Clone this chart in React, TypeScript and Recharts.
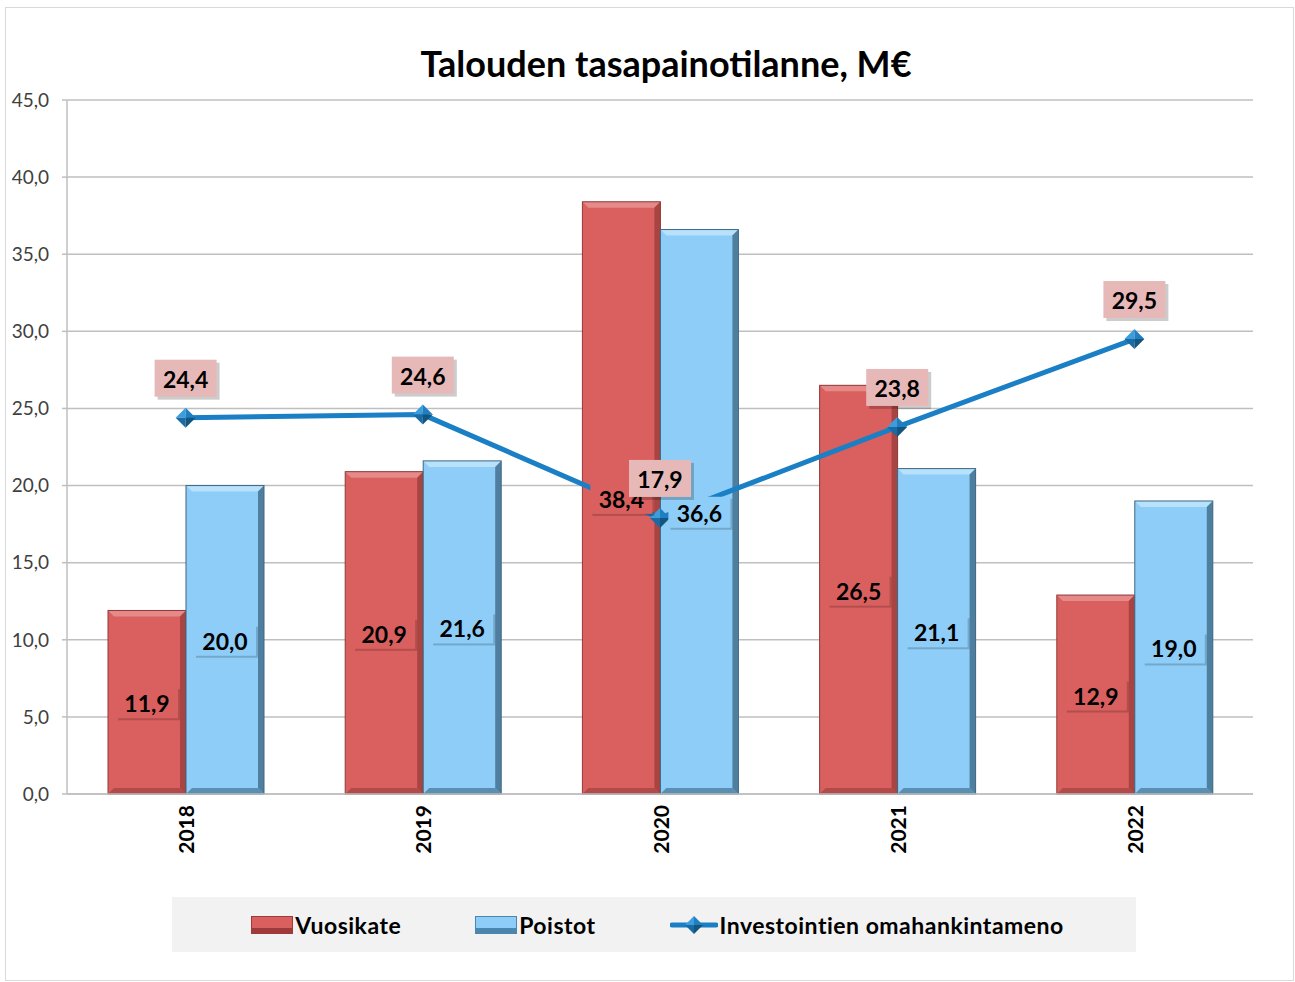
import React from "react";
import {
  ComposedChart,
  Bar,
  Line,
  XAxis,
  YAxis,
  CartesianGrid,
  LabelList,
} from "recharts";

const years = ["2018", "2019", "2020", "2021", "2022"];
const vuosikate = [11.9, 20.9, 38.4, 26.5, 12.9];
const poistot = [20.0, 21.6, 36.6, 21.1, 19.0];
const investoinnit = [24.4, 24.6, 17.9, 23.8, 29.5];
const yTicks = [0, 5, 10, 15, 20, 25, 30, 35, 40, 45];

const data = years.map((year, i) => ({
  year,
  vuosikate: vuosikate[i],
  poistot: poistot[i],
  investoinnit: investoinnit[i],
}));

const FONT = "Lato, 'Open Sans', sans-serif";
const RED = "#d9605e";
const BLUE = "#8dcdf7";
const LINE = "#1a7fc4";

const fmt = (v: number) => Number(v).toFixed(1).replace(".", ",");

// bar with a simple bevel, roughly like the Excel 3D style
function bevelBar(fill: string, light: string, dark: string, edge: string) {
  return (p: any) => {
    const { x, y, width, height } = p;
    if (!height || height <= 0) return <g />;
    const b = 6;
    return (
      <g>
        <rect x={x} y={y} width={width} height={height} fill={fill} />
        <polygon
          points={`${x},${y} ${x + width},${y} ${x + width - b},${y + b} ${x + b},${y + b}`}
          fill={light}
        />
        <polygon
          points={`${x + width},${y} ${x + width},${y + height} ${x + width - b},${y + height - b} ${x + width - b},${y + b}`}
          fill={dark}
        />
        <polygon
          points={`${x},${y + height} ${x + width},${y + height} ${x + width - b},${y + height - b} ${x + b},${y + height - b}`}
          fill={dark}
          opacity={0.8}
        />
        <rect x={x} y={y} width={width} height={height} fill="none" stroke={edge} strokeWidth={1} />
      </g>
    );
  };
}

function barLabel(bg: string) {
  return (p: any) => {
    const { x, y, width, height, value } = p;
    const cx = x + width / 2;
    const cy = y + height / 2;
    return (
      <g>
        <rect x={cx - 29} y={cy - 13} width={62} height={31} fill="#000" opacity={0.18} />
        <rect x={cx - 31} y={cy - 15} width={62} height={31} fill={bg} />
        <text
          x={cx}
          y={cy + 1}
          textAnchor="middle"
          dominantBaseline="central"
          fontFamily={FONT}
          fontWeight="bold"
          fontSize={23}
          fill="#000"
        >
          {fmt(value)}
        </text>
      </g>
    );
  };
}

function lineLabel(p: any) {
  const { x, y, value } = p;
  return (
    <g>
      <rect x={x - 28} y={y - 55} width={62} height={37} fill="#000" opacity={0.2} />
      <rect x={x - 31} y={y - 58} width={62} height={37} fill="#e6b9b8" />
      <text
        x={x}
        y={y - 39}
        textAnchor="middle"
        dominantBaseline="central"
        fontFamily={FONT}
        fontWeight="bold"
        fontSize={23}
        fill="#000"
      >
        {fmt(value)}
      </text>
    </g>
  );
}

function Diamond({ cx, cy, size = 9 }: any) {
  if (cx == null || cy == null) return <g />;
  const r = size;
  return (
    <g>
      <polygon points={`${cx},${cy - r} ${cx - r},${cy} ${cx},${cy}`} fill="#3b9ddd" />
      <polygon points={`${cx},${cy - r} ${cx + r},${cy} ${cx},${cy}`} fill="#1f7fc0" />
      <polygon points={`${cx - r},${cy} ${cx},${cy + r} ${cx},${cy}`} fill="#1a6aa3" />
      <polygon points={`${cx + r},${cy} ${cx},${cy + r} ${cx},${cy}`} fill="#14557f" />
    </g>
  );
}

function YearTick({ x, y, payload }: any) {
  const ay = y + 3;
  return (
    <text
      x={x}
      y={ay}
      transform={`rotate(-90 ${x} ${ay})`}
      textAnchor="end"
      dominantBaseline="central"
      fontFamily={FONT}
      fontWeight="bold"
      fontSize={21}
      fill="#000"
    >
      {payload.value}
    </text>
  );
}

function Swatch({ fill, dark }: { fill: string; dark: string }) {
  return (
    <svg width={42} height={18} style={{ display: "block" }}>
      <rect x={0} y={0} width={42} height={18} fill={fill} />
      <rect x={0} y={12} width={42} height={6} fill={dark} />
      <rect x={0.5} y={0.5} width={41} height={17} fill="none" stroke={dark} />
    </svg>
  );
}

function LegendBox() {
  const item: React.CSSProperties = { display: "flex", alignItems: "center", gap: 2 };
  const label: React.CSSProperties = {
    fontFamily: FONT,
    fontWeight: "bold",
    fontSize: 23,
    letterSpacing: 0.5,
    color: "#000",
  };
  return (
    <div
      style={{
        position: "absolute",
        left: 172,
        top: 897,
        width: 964,
        height: 55,
        background: "#f2f2f2",
        display: "flex",
        alignItems: "center",
        justifyContent: "center",
        gap: 74,
        boxSizing: "border-box",
        paddingLeft: 7,
      }}
    >
      <div style={item}>
        <Swatch fill={RED} dark="#9e3b3a" />
        <span style={label}>Vuosikate</span>
      </div>
      <div style={item}>
        <Swatch fill={BLUE} dark="#4a86ad" />
        <span style={label}>Poistot</span>
      </div>
      <div style={item}>
        <svg width={48} height={20} style={{ display: "block" }}>
          <line x1={2} y1={10} x2={46} y2={10} stroke={LINE} strokeWidth={5} strokeLinecap="round" />
          <Diamond cx={24} cy={10} size={9} />
        </svg>
        <span style={label}>Investointien omahankintameno</span>
      </div>
    </div>
  );
}

export default function App() {
  return (
    <div style={{ position: "absolute", left: 0, top: 0, width: 1295, height: 982, background: "#fff" }}>
      <div
        style={{
          position: "absolute",
          left: 5,
          top: 7,
          width: 1287,
          height: 972,
          border: "1px solid #d9d9d9",
        }}
      />
      <div
        style={{
          position: "absolute",
          left: 0,
          top: 41,
          width: 1332,
          textAlign: "center",
          fontFamily: FONT,
          fontWeight: "bold",
          fontSize: 36,
          color: "#000",
        }}
      >
        Talouden tasapainotilanne, M€
      </div>
      <div style={{ position: "absolute", left: 0, top: 0 }}>
        <ComposedChart
          width={1295}
          height={982}
          data={data}
          margin={{ top: 100, right: 42, left: 0, bottom: 0 }}
          barGap={0}
        >
          <CartesianGrid vertical={false} stroke="#bfbfbf" strokeWidth={1.5} />
          <XAxis
            dataKey="year"
            height={188}
            tickLine={false}
            axisLine={{ stroke: "#bfbfbf", strokeWidth: 1.5 }}
            tick={<YearTick />}
            interval={0}
          />
          <YAxis
            width={67}
            domain={[0, 45]}
            ticks={yTicks}
            tickFormatter={fmt}
            tickSize={5}
            tickMargin={13}
            axisLine={{ stroke: "#bfbfbf", strokeWidth: 1.5 }}
            tickLine={{ stroke: "#bfbfbf", strokeWidth: 1.5 }}
            tick={{ fontFamily: FONT, fontSize: 19, fill: "#404040" }}
          />
          <Bar
            dataKey="vuosikate"
            barSize={78}
            isAnimationActive={false}
            shape={bevelBar(RED, "#e58a88", "#a84543", "#8f3a39")}
          >
            <LabelList dataKey="vuosikate" content={barLabel(RED)} />
          </Bar>
          <Bar
            dataKey="poistot"
            barSize={78}
            isAnimationActive={false}
            shape={bevelBar(BLUE, "#b8e1fb", "#4f7f9f", "#3d6883")}
          >
            <LabelList dataKey="poistot" content={barLabel(BLUE)} />
          </Bar>
          <Line
            dataKey="investoinnit"
            stroke={LINE}
            strokeWidth={5}
            type="linear"
            isAnimationActive={false}
            dot={(p: any) => <Diamond key={`d${p.index}`} cx={p.cx} cy={p.cy} size={10} />}
            activeDot={false}
          >
            <LabelList dataKey="investoinnit" content={lineLabel} />
          </Line>
        </ComposedChart>
      </div>
      <LegendBox />
    </div>
  );
}
